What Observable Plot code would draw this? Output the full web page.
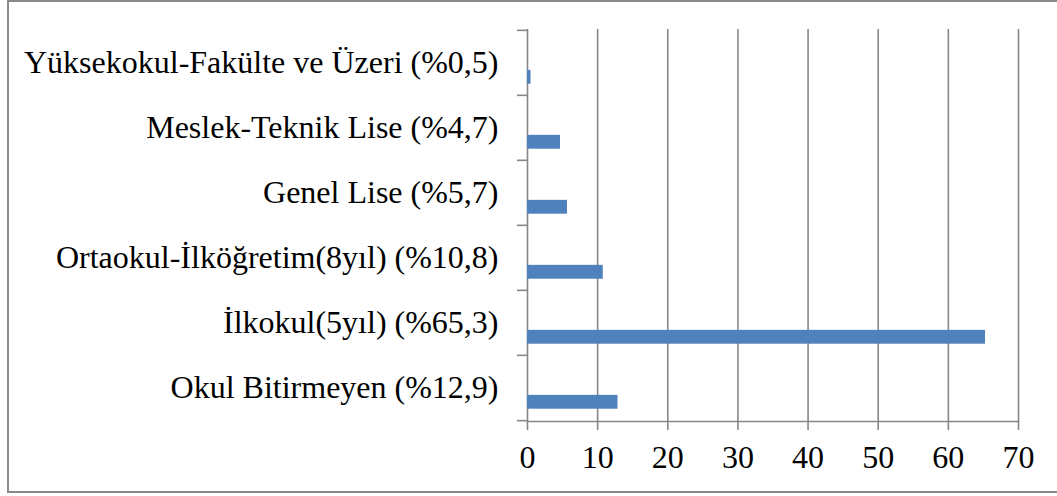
<!DOCTYPE html>
<html>
<head>
<meta charset="utf-8">
<script src="https://cdn.jsdelivr.net/npm/d3@7"></script>
<script src="https://cdn.jsdelivr.net/npm/@observablehq/plot@0.6"></script>
<style>
  html, body { margin: 0; padding: 0; background: #fff; }
  #wrap { position: relative; width: 1057px; height: 496px; overflow: hidden; }
  #border { position: absolute; left: 7px; top: 0; width: 1100px; height: 493px;
            border-left: 2px solid #8a8a8a; border-top: 2px solid #8a8a8a; border-bottom: 2px solid #8a8a8a;
            box-sizing: border-box; }
  #chart { position: absolute; left: 0; top: 0; }
</style>
</head>
<body>
<div id="wrap"><div id="border"></div><div id="chart"></div></div>
<script>
const categories = [
  "Okul Bitirmeyen (%12,9)",
  "İlkokul(5yıl) (%65,3)",
  "Ortaokul-İlköğretim(8yıl) (%10,8)",
  "Genel Lise (%5,7)",
  "Meslek-Teknik Lise (%4,7)",
  "Yüksekokul-Fakülte ve Üzeri (%0,5)"
];
const values = [12.9, 65.3, 10.8, 5.7, 4.7, 0.5];
const xTicks = [0, 10, 20, 30, 40, 50, 60, 70];

const data = categories.map((c, i) => ({category: c, value: values[i]}));
const order = categories.slice().reverse();

const W = 1057, H = 496, mT = 29, mB = 75, mL = 527, mR = 39;
const band = (H - mT - mB) / categories.length;
const gray = "#878787";
const serif = "'Times New Roman', 'Liberation Serif', 'DejaVu Serif', serif";

const chart = Plot.plot({
  width: W, height: H,
  marginLeft: mL, marginRight: mR, marginTop: mT, marginBottom: mB,
  style: {fontFamily: serif, fontSize: "32px", color: "#000", background: "transparent", overflow: "visible"},
  x: {domain: [0, 70], axis: null},
  y: {domain: order, padding: 0, axis: null},
  marks: [
    Plot.gridX(xTicks, {stroke: gray, strokeOpacity: 1, strokeWidth: 1.6}),
    Plot.barX(data, {x: "value", y: "category", fill: "#4F81BD", insetTop: band * 0.61, insetBottom: band * 0.173}),
    Plot.frame({anchor: "bottom", stroke: gray, strokeWidth: 1.6}),
    Plot.axisX(xTicks, {tickSize: 9, tickPadding: 15, stroke: gray, strokeWidth: 1.6, tickFormat: d => String(d), fill: "#000", label: null}),
    Plot.axisY({tickSize: 0, tickPadding: 29, fill: "#000", label: null}),
    Plot.axisY(order, {tickSize: 10, tickFormat: () => "", stroke: gray, strokeWidth: 1.6, dy: -band / 2, label: null}),
    Plot.axisY([order[order.length - 1]], {tickSize: 10, tickFormat: () => "", stroke: gray, strokeWidth: 1.6, dy: band / 2, label: null})
  ]
});
d3.select(chart).selectAll("g, text").style("font-family", serif).attr("font-family", null);
document.getElementById("chart").appendChild(chart);
</script>
</body>
</html>
